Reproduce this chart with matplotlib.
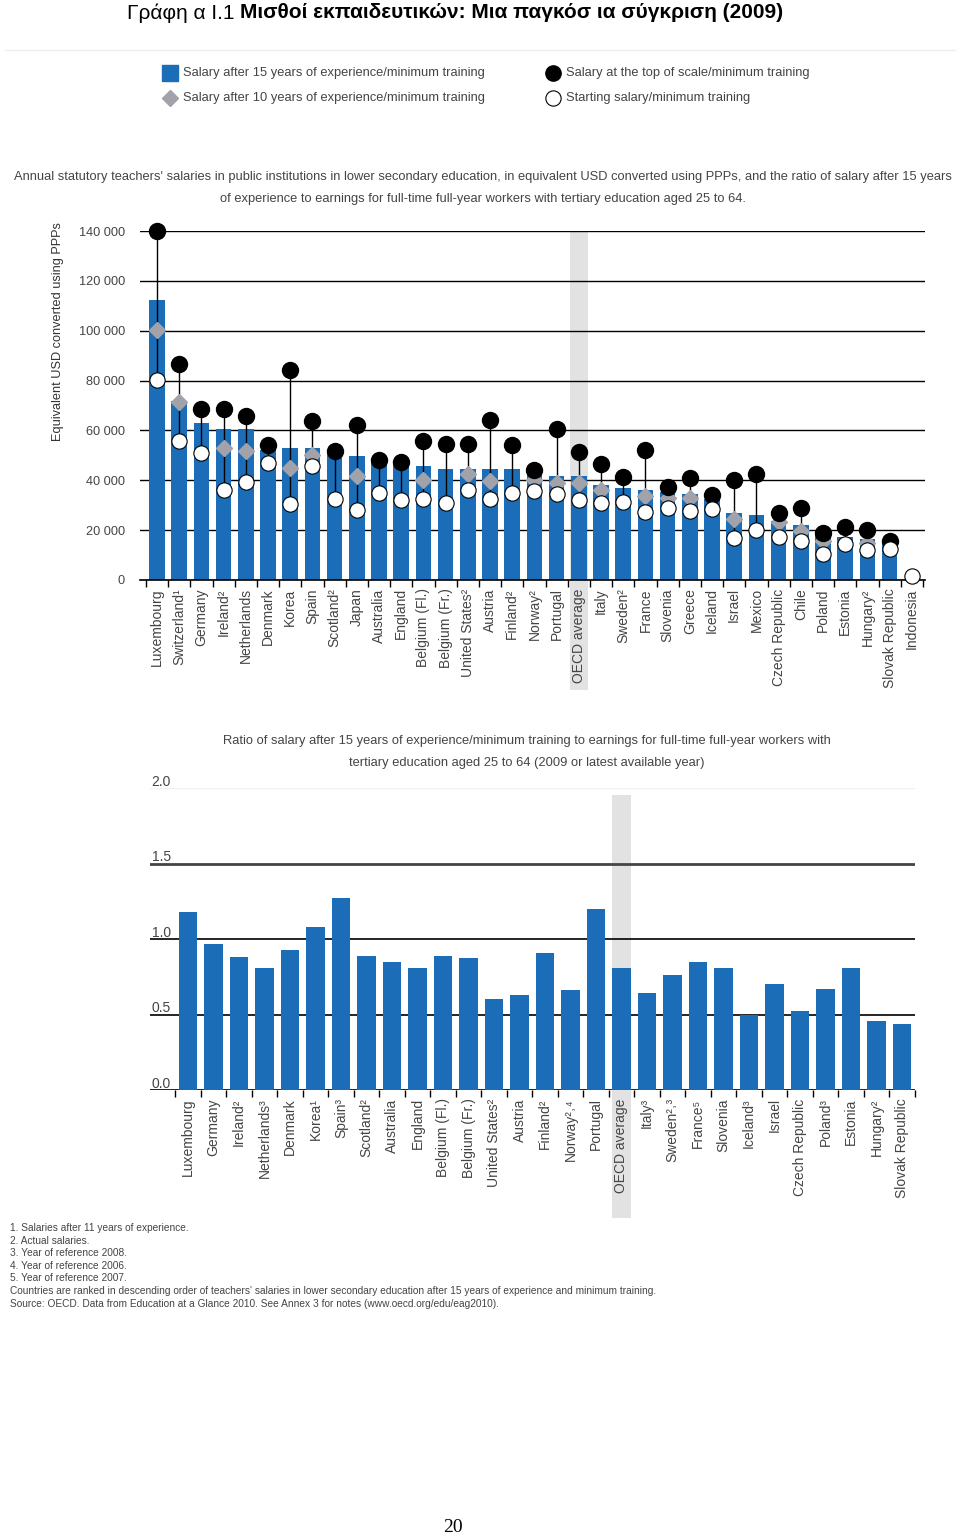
import numpy as np
import matplotlib
matplotlib.use('Agg')
import matplotlib.pyplot as plt
from matplotlib.lines import Line2D
from matplotlib.patches import Rectangle
import matplotlib.transforms as mtransforms

plt.rcParams['font.family'] = ['Liberation Sans', 'DejaVu Sans']

# ---------------- data: top chart (USD, PPP) ----------------
countries_top = ['Luxembourg', 'Switzerland¹', 'Germany', 'Ireland²', 'Netherlands', 'Denmark',
                 'Korea', 'Spain', 'Scotland²', 'Japan', 'Australia', 'England',
                 'Belgium (Fl.)', 'Belgium (Fr.)', 'United States²', 'Austria', 'Finland²',
                 'Norway²', 'Portugal', 'OECD average', 'Italy', 'Sweden²', 'France',
                 'Slovenia', 'Greece', 'Iceland', 'Israel', 'Mexico', 'Czech Republic',
                 'Chile', 'Poland', 'Estonia', 'Hungary²', 'Slovak Republic', 'Indonesia']
salary_15 = [112200, 72000, 62800, 60400, 60400, 52300, 52900, 52900, 51600, 49600, 48300, 46900,
             45600, 44500, 44500, 44500, 44500, 43000, 41600, 41600, 38300, 36900, 36300,
             35200, 34300, 32300, 26900, 25900, 23600, 22000, 19000, 17300, 16300, 14700, np.nan]
salary_10 = [100200, 71500, np.nan, 52800, 51800, np.nan, 44900, 50300, np.nan, 41600, np.nan, np.nan,
             40300, np.nan, 42400, 39600, np.nan, 40300, 38900, 38900, 36300, np.nan, 33600,
             32900, 32900, np.nan, 24300, np.nan, 23400, 19600, 15600, np.nan, 15000, np.nan, np.nan]
salary_top = [140000, 86600, 68500, 68400, 65700, 54300, 84400, 63600, 51600, 62300, 48300, 47200,
              55600, 54400, 54400, 64000, 54300, 44000, 60500, 51200, 46700, 41300, 52000,
              37300, 40900, 33900, 40000, 42700, 26700, 28900, 18700, 21300, 20000, 15600, np.nan]
salary_start = [80400, 55700, 50800, 36300, 39400, 46900, 30300, 45600, 32300, 28000, 34900, 32000,
                32300, 31000, 36300, 32500, 34700, 35600, 34300, 32000, 30900, 31200, 27200,
                28900, 27600, 28500, 16900, 20000, 17300, 15600, 10300, 14300, 12000, 12300, 1600]
salary_ticks = [0, 20000, 40000, 60000, 80000, 100000, 120000, 140000]
salary_tick_labels = ['0', '20 000', '40 000', '60 000', '80 000', '100 000', '120 000', '140 000']

# ---------------- data: bottom chart (ratio) ----------------
countries_ratio = ['Luxembourg', 'Germany', 'Ireland²', 'Netherlands³', 'Denmark', 'Korea¹',
                   'Spain³', 'Scotland²', 'Australia', 'England', 'Belgium (Fl.)', 'Belgium (Fr.)',
                   'United States²', 'Austria', 'Finland²', 'Norway²˒⁴', 'Portugal', 'OECD average',
                   'Italy³', 'Sweden²˒³', 'France⁵', 'Slovenia', 'Iceland³', 'Israel',
                   'Czech Republic', 'Poland³', 'Estonia', 'Hungary²', 'Slovak Republic']
ratio_values = [1.18, 0.97, 0.88, 0.81, 0.93, 1.08, 1.27, 0.89, 0.85, 0.81, 0.89, 0.875,
                0.60, 0.63, 0.91, 0.66, 1.20, 0.81, 0.64, 0.76, 0.85, 0.81, 0.50, 0.70,
                0.52, 0.67, 0.81, 0.455, 0.44]
ratio_ticks = [0.0, 0.5, 1.0, 1.5, 2.0]
ratio_tick_labels = ['0.0', '0.5', '1.0', '1.5', '2.0']

# ---------------- text ----------------
title_regular = 'Γράφη α Ι.1 '
title_bold = 'Μισθοί εκπαιδευτικών: Μια παγκόσ ια σύγκριση (2009)'
legend_labels = ['Salary after 15 years of experience/minimum training',
                 'Salary after 10 years of experience/minimum training',
                 'Salary at the top of scale/minimum training',
                 'Starting salary/minimum training']
subtitle_top = ["Annual statutory teachers' salaries in public institutions in lower secondary education, "
                "in equivalent USD converted using PPPs, and the ratio of salary after 15 years",
                "of experience to earnings for full-time full-year workers with tertiary education aged 25 to 64."]
ylabel_top = 'Equivalent USD converted using PPPs'
subtitle_bottom = ["Ratio of salary after 15 years of experience/minimum training to earnings for full-time full-year workers with",
                   "tertiary education aged 25 to 64 (2009 or latest available year)"]
footnotes = ['1. Salaries after 11 years of experience.',
             '2. Actual salaries.',
             '3. Year of reference 2008.',
             '4. Year of reference 2006.',
             '5. Year of reference 2007.',
             "Countries are ranked in descending order of teachers' salaries in lower secondary education after 15 years of experience and minimum training.",
             'Source: OECD. Data from Education at a Glance 2010. See Annex 3 for notes (www.oecd.org/edu/eag2010).']
page_number = '20'

BLUE = '#1a6db6'
GREY_D = '#a2a2aa'
BAND = '#e2e2e2'
TXT = '#444444'

W, H = 960, 1540
fig = plt.figure(figsize=(W / 100, H / 100), dpi=100)


def fx(px):
    return px / W


def fy(py):
    return 1 - py / H


# ---------------- title ----------------
t1 = fig.text(fx(127), fy(13), title_regular, fontsize=15, ha='left', va='center', color='black')
fig.canvas.draw()
bb = t1.get_window_extent()
fig.text(bb.x1 / W, fy(13), title_bold, fontsize=15, fontweight='bold', ha='left', va='center', color='black')

fig.add_artist(Line2D([fx(5), fx(955)], [fy(50), fy(50)], color='#eeeeee', lw=1))

# ---------------- legend ----------------
leg_pos = [(170, 73), (170, 98), (553, 73), (553, 98)]
fig.add_artist(Line2D([fx(170)], [fy(73)], marker='s', ms=11, color=BLUE, ls='none'))
fig.add_artist(Line2D([fx(170)], [fy(98)], marker='D', ms=8, color=GREY_D, ls='none'))
fig.add_artist(Line2D([fx(553)], [fy(73)], marker='o', ms=11, color='black', ls='none'))
fig.add_artist(Line2D([fx(553)], [fy(98)], marker='o', ms=11, mfc='white', mec='black', mew=0.8, ls='none'))
for (px, py), lab in zip(leg_pos, legend_labels):
    fig.text(fx(px + 13), fy(py), lab, fontsize=9.3, color=TXT, ha='left', va='center')

# ---------------- subtitle ----------------
fig.text(fx(483), fy(177), subtitle_top[0], fontsize=9.3, color=TXT, ha='center', va='center')
fig.text(fx(483), fy(199), subtitle_top[1], fontsize=9.3, color=TXT, ha='center', va='center')

# ---------------- top chart ----------------
x1 = np.arange(len(countries_top))
ax1 = fig.add_axes([fx(140), fy(580), fx(925) - fx(140), fy(231) - fy(580)])
ax1.set_xlim((140 - 157) / 22.2, (925 - 157) / 22.2)
ax1.set_ylim(0, 140000)
ax1.set_axisbelow(True)

oecd1 = countries_top.index('OECD average')
tr1 = mtransforms.blended_transform_factory(ax1.transData, ax1.transAxes)
ax1.add_patch(Rectangle((oecd1 - 0.41, -0.315), 0.82, 1.315, transform=tr1, color=BAND,
                        zorder=0.3, clip_on=False, lw=0))

ax1.bar(x1, salary_15, width=0.7, color=BLUE, zorder=2)

s15 = np.array(salary_15, dtype=float)
s10 = np.array(salary_10, dtype=float)
stop = np.array(salary_top, dtype=float)
sst = np.array(salary_start, dtype=float)
ok = ~np.isnan(stop) & ~np.isnan(sst)
ax1.vlines(x1[ok], sst[ok], stop[ok], color='black', lw=1.0, zorder=3)
ax1.plot(x1, s10, ls='none', marker='D', ms=8, color=GREY_D, zorder=4, clip_on=False)
ax1.plot(x1, stop, ls='none', marker='o', ms=11.5, color='black', zorder=5, clip_on=False)
ax1.plot(x1, sst, ls='none', marker='o', ms=11, mfc='white', mec='black', mew=0.8, zorder=6, clip_on=False)

ax1.set_yticks(salary_ticks)
ax1.set_yticklabels(salary_tick_labels)
ax1.yaxis.grid(True, color='black', lw=1.0)
ax1.tick_params(axis='y', length=0, pad=10.8, labelsize=9.2, labelcolor=TXT)
ax1.set_xticks(x1)
ax1.set_xticklabels(countries_top, rotation=90, fontsize=10, color=TXT, va='top')
ax1.tick_params(axis='x', which='major', length=0, pad=6)
ax1.set_xticks(np.arange(-0.5, len(countries_top), 1), minor=True)
ax1.tick_params(axis='x', which='minor', length=5, width=1, color='black', direction='out')
for s in ['left', 'right', 'top']:
    ax1.spines[s].set_visible(False)
ax1.spines['bottom'].set_color('black')
ax1.spines['bottom'].set_linewidth(1.2)

fig.text(fx(58), fy(332), ylabel_top, rotation=90, fontsize=9.2, color='#333333', ha='center', va='center')

# ---------------- bottom chart ----------------
fig.text(fx(527), fy(741), subtitle_bottom[0], fontsize=9.3, color=TXT, ha='center', va='center')
fig.text(fx(527), fy(763), subtitle_bottom[1], fontsize=9.3, color=TXT, ha='center', va='center')

x2 = np.arange(len(countries_ratio))
ax2 = fig.add_axes([fx(150), fy(1090), fx(915) - fx(150), fy(788) - fy(1090)])
ax2.set_xlim((150 - 188) / 25.5, (915 - 188) / 25.5)
ax2.set_ylim(0, 2.0)

oecd2 = countries_ratio.index('OECD average')
tr2 = mtransforms.blended_transform_factory(ax2.transData, ax2.transAxes)
ax2.add_patch(Rectangle((oecd2 - 0.36, -0.424), 0.72, 1.40, transform=tr2, color=BAND,
                        zorder=0.3, clip_on=False, lw=0))

grid_colors = ['black', 'black', 'black', '#444444', '#f0f0f0']
grid_widths = [1.2, 1.2, 1.2, 2.0, 1.0]
for v, c, lw in zip(ratio_ticks, grid_colors, grid_widths):
    ax2.axhline(v, color=c, lw=lw, zorder=1)

ax2.bar(x2, ratio_values, width=0.74, color=BLUE, zorder=2)

ytr2 = mtransforms.blended_transform_factory(ax2.transAxes, ax2.transData)
for v, lab in zip(ratio_ticks, ratio_tick_labels):
    ax2.text(0.002, v - 0.005, lab, transform=ytr2, fontsize=10, color=TXT, ha='left', va='bottom',
             zorder=0.8)

ax2.set_yticks([])
ax2.set_xticks(x2)
ax2.set_xticklabels(countries_ratio, rotation=90, fontsize=10, color=TXT, va='top')
ax2.tick_params(axis='x', which='major', length=0, pad=6)
ax2.set_xticks(np.arange(-0.5, len(countries_ratio), 1), minor=True)
ax2.tick_params(axis='x', which='minor', length=5, width=1, color='black', direction='out')
for s in ['left', 'right', 'top', 'bottom']:
    ax2.spines[s].set_visible(False)

# ---------------- footnotes ----------------
for i, line in enumerate(footnotes):
    fig.text(fx(10), fy(1228 + i * 12.6), line, fontsize=7.25, color=TXT, ha='left', va='center')

fig.text(fx(453), fy(1527), page_number, fontsize=14, family='Liberation Serif', ha='center', va='center')

fig.savefig('out.png', dpi=100)
